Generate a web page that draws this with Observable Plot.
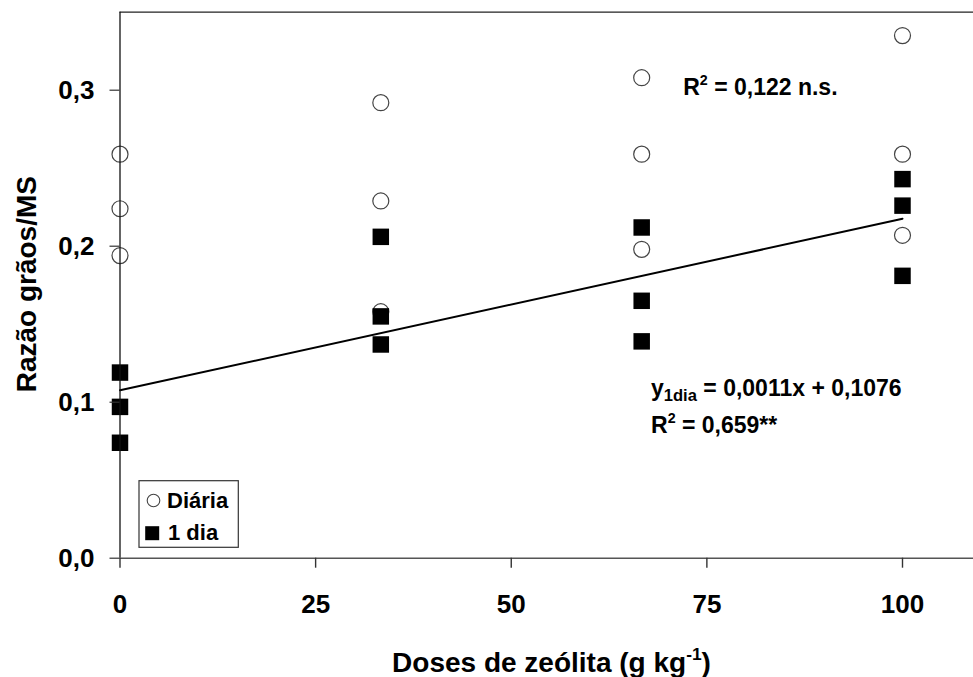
<!DOCTYPE html>
<html>
<head>
<meta charset="utf-8">
<script src="https://cdn.jsdelivr.net/npm/d3@7"></script>
<script src="https://cdn.jsdelivr.net/npm/@observablehq/plot@0.6"></script>
<style>
  html, body { margin: 0; padding: 0; background: #fff; overflow: hidden; }
  #chart svg { display: block; }
</style>
</head>
<body>
<div id="chart"></div>
<script>
// ---- data ----
const doses = [0, 33.33, 66.67, 100];
const diariaX = [0, 0, 0, 33.33, 33.33, 33.33, 66.67, 66.67, 66.67, 100, 100, 100];
const diariaY = [0.259, 0.224, 0.194, 0.292, 0.229, 0.158, 0.308, 0.259, 0.198, 0.335, 0.259, 0.207];
const umDiaX = [0, 0, 0, 33.33, 33.33, 33.33, 66.67, 66.67, 66.67, 100, 100, 100];
const umDiaY = [0.119, 0.097, 0.074, 0.206, 0.155, 0.137, 0.212, 0.165, 0.139, 0.243, 0.226, 0.181];
const slope = 0.0011, intercept = 0.1076;
const xTicks = [0, 25, 50, 75, 100];
const yTicks = [0, 0.1, 0.2, 0.3];
const seriesNames = ["Diária", "1 dia"];
const xLabel = "Doses de zeólita (g kg-1)";
const yLabel = "Razão grãos/MS";
const ann1 = "R2 = 0,122 n.s.";
const ann2 = "y1dia = 0,0011x + 0,1076";
const ann3 = "R2 = 0,659**";

const diaria = diariaX.map((x, i) => ({x, y: diariaY[i]}));
const umDia = umDiaX.map((x, i) => ({x, y: umDiaY[i]}));
const fit = [doses[0], doses[doses.length - 1]].map(x => ({x, y: slope * x + intercept}));

const W = 973, H = 677;
const mL = 119.5, mT = 11.7, mB = H - 557.7;
const xMax = (W - mL) / 7.825;
const font = "'Liberation Sans', Arial, Helvetica, sans-serif";
const fmt = d => d.toFixed(1).replace(".", ",");

const plot = Plot.plot({
  width: W,
  height: H,
  marginLeft: mL,
  marginRight: 0,
  marginTop: mT,
  marginBottom: mB,
  x: {domain: [0, xMax]},
  y: {domain: [0, 0.35]},
  style: {fontFamily: font, fontWeight: "bold", fontSize: "26px", color: "#000", background: "#fff"},
  marks: [
    Plot.ruleY([0.35], {stroke: "#222", strokeWidth: 1.3}),
    Plot.dot(diaria, {x: "x", y: "y", r: 8, symbol: "circle", stroke: "#444", strokeWidth: 1.2, fill: "none"}),
    Plot.dot(umDia, {x: "x", y: "y", r: 9.3, symbol: "square", fill: "#000", stroke: "none"}),
    Plot.line(fit, {x: "x", y: "y", stroke: "#000", strokeWidth: 2}),
    Plot.ruleX([0], {stroke: "#111", strokeWidth: 1.3}),
    Plot.ruleY([0], {stroke: "#555", strokeWidth: 1.6}),
    Plot.axisX({ticks: xTicks, tickSize: 10, tickPadding: 26, tickFormat: d => String(d), stroke: "#333", strokeWidth: 1.4, label: null, fontSize: 26, fontWeight: "bold"}),
    Plot.axisY({ticks: yTicks, tickSize: 10, tickPadding: 15.5, tickFormat: fmt, stroke: "#333", strokeWidth: 1.2, label: null, fontSize: 26, fontWeight: "bold"}),
    Plot.text([yLabel], {frameAnchor: "left", rotate: -90, dx: -92.5, dy: -1, fontSize: 28, fontWeight: "bold", textAnchor: "middle", lineAnchor: "middle"}),
    Plot.text([xLabel], {frameAnchor: "bottom", dx: 4.75, dy: 94, fontSize: 28, fontWeight: "bold", textAnchor: "middle", lineAnchor: "top"}),
    Plot.text([ann1], {frameAnchor: "top-left", dx: 682.7 - mL, dy: 94.3 - mT, fontSize: 23, fontWeight: "bold", textAnchor: "start", lineAnchor: "bottom"}),
    Plot.text([ann2], {frameAnchor: "top-left", dx: 650.5 - mL, dy: 395 - mT, fontSize: 23, fontWeight: "bold", textAnchor: "start", lineAnchor: "bottom"}),
    Plot.text([ann3], {frameAnchor: "top-left", dx: 650.5 - mL, dy: 432 - mT, fontSize: 23, fontWeight: "bold", textAnchor: "start", lineAnchor: "bottom"}),
    // legend
    Plot.dot([seriesNames[0]], {frameAnchor: "bottom-left", dx: 153 - mL, dy: 500 - 557.7, r: 6.3, symbol: "circle", stroke: "#444", strokeWidth: 1.1, fill: "none"}),
    Plot.dot([seriesNames[1]], {frameAnchor: "bottom-left", dx: 151.7 - mL, dy: 532.7 - 557.7, r: 7.9, symbol: "square", fill: "#000"}),
    Plot.text([seriesNames[0]], {frameAnchor: "bottom-left", dx: 166.5 - mL, dy: 500 - 557.7, fontSize: 22, fontWeight: "bold", textAnchor: "start", lineAnchor: "middle"}),
    Plot.text([seriesNames[1]], {frameAnchor: "bottom-left", dx: 167.5 - mL, dy: 532.5 - 557.7, fontSize: 22, fontWeight: "bold", textAnchor: "start", lineAnchor: "middle"})
  ]
});

document.getElementById("chart").appendChild(plot);

// rich text (superscripts / subscripts)
const svg = d3.select(plot);
function rich(content, parts) {
  svg.selectAll("text").filter(function () { return this.textContent === content; }).each(function () {
    const t = d3.select(this);
    t.text(null);
    let shift = 0;
    for (const p of parts) {
      const ts = t.append("tspan").text(p.t);
      let target = 0;
      if (p.sup) target = -0.42;
      if (p.sub) target = 0.22;
      const size = p.sup ? 0.62 : p.sub ? 0.72 : 1;
      ts.attr("font-size", size === 1 ? null : (size * 100) + "%");
      // dy measured in the tspan's own em
      const delta = (target - shift);
      if (delta !== 0) ts.attr("dy", (delta / size).toFixed(3) + "em");
      shift = target;
    }
  });
}
rich(ann1, [{t: "R"}, {t: "2", sup: true}, {t: " = 0,122 n.s."}]);
rich(ann3, [{t: "R"}, {t: "2", sup: true}, {t: " = 0,659**"}]);
rich(ann2, [{t: "y"}, {t: "1dia", sub: true}, {t: " = 0,0011x + 0,1076"}]);
rich(xLabel, [{t: "Doses de zeólita (g kg"}, {t: "-1", sup: true}, {t: ")"}]);

// legend box
svg.append("rect")
  .attr("x", 139).attr("y", 480.7).attr("width", 99.3).attr("height", 66.6)
  .attr("fill", "none").attr("stroke", "#333").attr("stroke-width", 1.2);
</script>
</body>
</html>
